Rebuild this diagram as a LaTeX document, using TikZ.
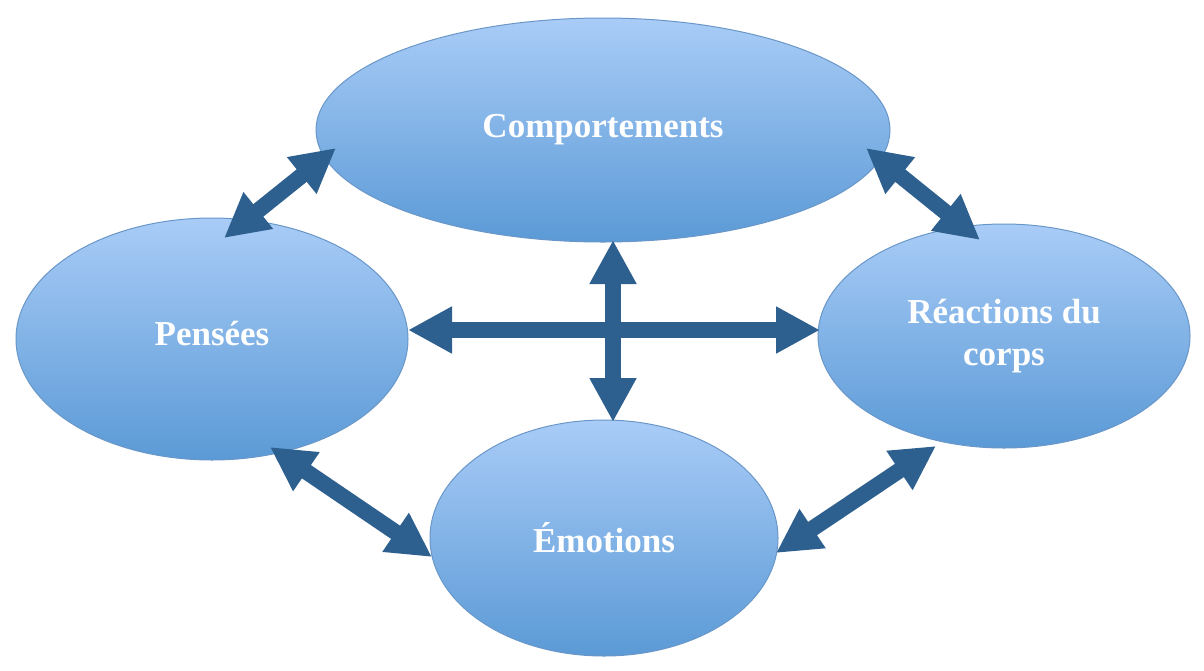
\documentclass[tikz,border=0pt]{standalone}
\usepackage{fontspec}
\setmainfont{Liberation Serif}
\usetikzlibrary{shapes.geometric,arrows.meta}
\definecolor{elltop}{HTML}{A9CCF7}
\definecolor{ellbot}{HTML}{5B9AD6}
\definecolor{ellborder}{HTML}{6A97C8}
\definecolor{arrowblue}{HTML}{2D5F8F}
\tikzset{
  bubble/.style={ellipse, inner sep=0pt, top color=elltop, bottom color=ellbot,
    draw=ellborder, line width=1pt, text=white, align=center,
    font=\bfseries\fontsize{35}{42}\selectfont},
  dblarrow/.style={draw=arrowblue, line width=16pt,
    {Triangle[length=44pt,width=44pt]}-{Triangle[length=44pt,width=44pt]}}
}
\begin{document}
\begin{tikzpicture}[x=1pt,y=-1pt]
\useasboundingbox (0,0) rectangle (1204,670);
\node[bubble, minimum width=574pt, minimum height=224pt] (comp) at (603,130) {Comportements};
\node[bubble, minimum width=392pt, minimum height=242pt] (pens) at (212,339) {};
\node[text=white, font=\bfseries\fontsize{35}{42}\selectfont] (penstxt) at (212,334) {Pensées};
\node[bubble, minimum width=372pt, minimum height=224pt] (reac) at (1004,336) {Réactions du\\corps};
\node[bubble, minimum width=348pt, minimum height=236pt] (emo) at (604,538) {Émotions};
\coordinate (a1) at (224,238);
\coordinate (b1) at (336,148);
\coordinate (a2) at (866,148);
\coordinate (b2) at (980,240);
\coordinate (a3) at (270,447);
\coordinate (b3) at (432,557);
\coordinate (a4) at (776,553);
\coordinate (b4) at (936,446);
\coordinate (a5) at (408,330);
\coordinate (b5) at (820,330);
\coordinate (a6) at (613,240);
\coordinate (b6) at (613,422);
\draw[dblarrow] (a1) -- (b1);
\draw[dblarrow] (a2) -- (b2);
\draw[dblarrow] (a3) -- (b3);
\draw[dblarrow] (a4) -- (b4);
\draw[dblarrow] (a5) -- (b5);
\draw[dblarrow] (a6) -- (b6);
\end{tikzpicture}
\end{document}
